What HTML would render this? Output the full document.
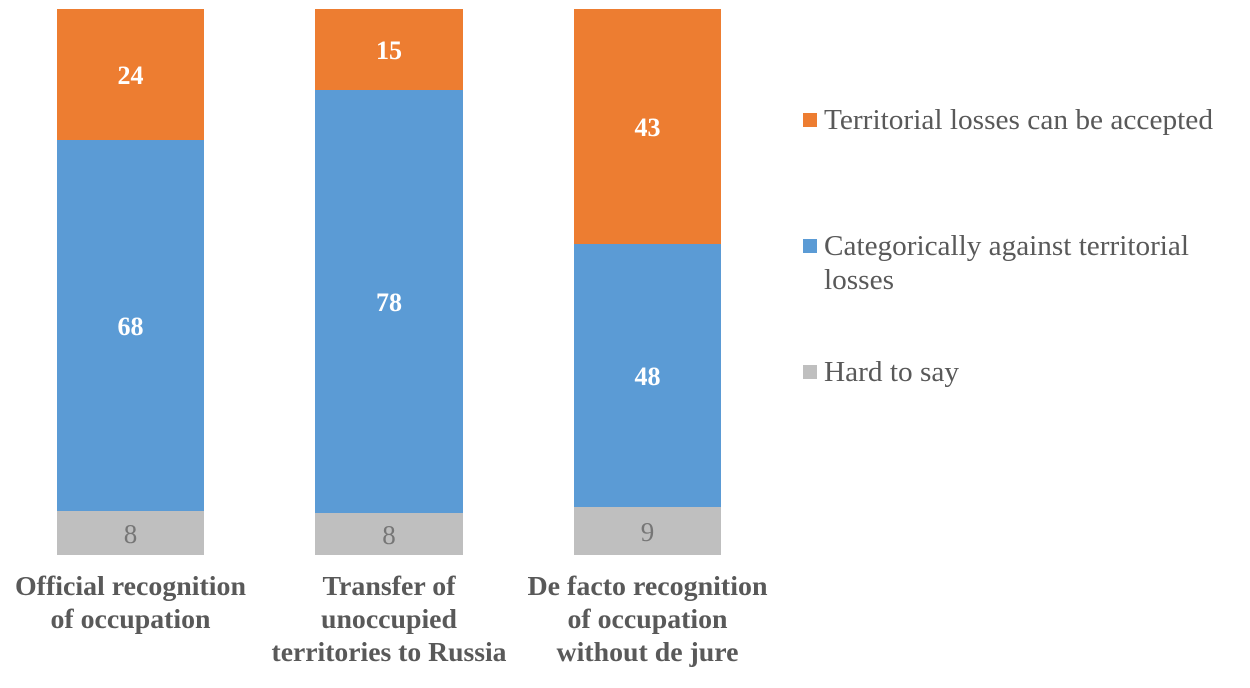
<!DOCTYPE html>
<html><head><style>body{margin:0;background:#fff}svg{display:block}</style></head>
<body>
<svg width="1250" height="688" xmlns="http://www.w3.org/2000/svg" font-family="Liberation Serif, serif">
<rect width="1250" height="688" fill="#fff"/>
<g>
<rect x="57" y="9" width="147" height="131" fill="#ED7D31"/>
<rect x="57" y="140" width="147" height="371" fill="#5B9BD5"/>
<rect x="57" y="511" width="147" height="44" fill="#BFBFBF"/>
<rect x="315" y="9" width="148" height="81" fill="#ED7D31"/>
<rect x="315" y="90" width="148" height="423" fill="#5B9BD5"/>
<rect x="315" y="513" width="148" height="42" fill="#BFBFBF"/>
<rect x="574" y="9" width="147" height="235" fill="#ED7D31"/>
<rect x="574" y="244" width="147" height="263" fill="#5B9BD5"/>
<rect x="574" y="507" width="147" height="48" fill="#BFBFBF"/>
</g>
<g font-size="26" font-weight="bold" fill="#fff" text-anchor="middle">
<text x="130.5" y="84">24</text><text x="130.5" y="335">68</text>
<text x="389" y="59">15</text><text x="389" y="311">78</text>
<text x="647.5" y="136">43</text><text x="647.5" y="385">48</text>
</g>
<g font-size="27" fill="#767676" text-anchor="middle">
<text x="130.5" y="543">8</text><text x="389" y="544">8</text><text x="647.5" y="541">9</text>
</g>
<g font-size="27" font-weight="bold" fill="#595959" text-anchor="middle" lengthAdjust="spacingAndGlyphs">
<text x="130.5" y="595" textLength="231" lengthAdjust="spacingAndGlyphs">Official recognition</text><text x="130.5" y="628" textLength="160" lengthAdjust="spacingAndGlyphs">of occupation</text>
<text x="389" y="595" textLength="133" lengthAdjust="spacingAndGlyphs">Transfer of</text><text x="389" y="628" textLength="136" lengthAdjust="spacingAndGlyphs">unoccupied</text><text x="389" y="661" textLength="235" lengthAdjust="spacingAndGlyphs">territories to Russia</text>
<text x="647.5" y="595" textLength="240" lengthAdjust="spacingAndGlyphs">De facto recognition</text><text x="647.5" y="628" textLength="160" lengthAdjust="spacingAndGlyphs">of occupation</text><text x="647.5" y="661" textLength="182" lengthAdjust="spacingAndGlyphs">without de jure</text>
</g>
<rect x="803" y="113" width="14" height="14" fill="#ED7D31"/>
<rect x="803" y="239" width="14" height="14" fill="#5B9BD5"/>
<rect x="803" y="365" width="14" height="14" fill="#BFBFBF"/>
<g font-size="28" fill="#595959">
<text x="824" y="129" textLength="389" lengthAdjust="spacingAndGlyphs">Territorial losses can be accepted</text>
<text x="824" y="255" textLength="365" lengthAdjust="spacingAndGlyphs">Categorically against territorial</text>
<text x="824" y="289" textLength="70" lengthAdjust="spacingAndGlyphs">losses</text>
<text x="824" y="381" textLength="135" lengthAdjust="spacingAndGlyphs">Hard to say</text>
</g>
</svg>
</body></html>
